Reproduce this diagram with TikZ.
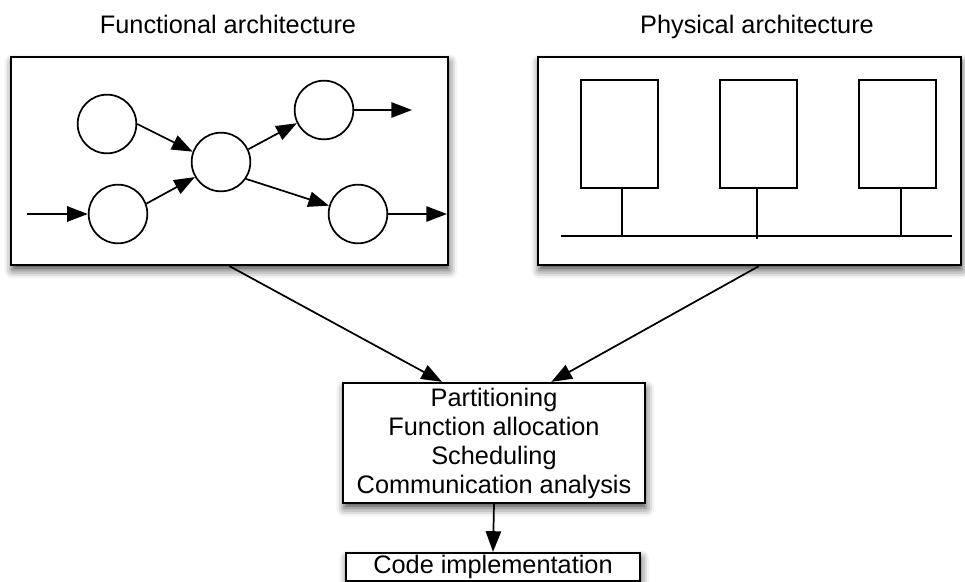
\documentclass[tikz,border=0pt]{standalone}
\usepackage{fontspec}
\setmainfont{Liberation Sans}
\usetikzlibrary{arrows.meta,shadows.blur,fit}
\begin{document}
\begin{tikzpicture}[x=0.75pt,y=-0.75pt,
  lbl/.style={font=\fontsize{19}{21.75}\selectfont},
  bigbox/.style={draw, line width=1.7pt, fill=white, inner sep=0pt,
    blur shadow={shadow xshift=1pt, shadow yshift=-4pt, shadow blur radius=6pt, shadow opacity=70}},
  proc/.style={circle, draw, line width=1.3pt, fill=white, minimum size=44pt, inner sep=0pt},
  cpu/.style={draw, line width=1.3pt, inner sep=0pt},
  conn/.style={line width=1.3pt, -{Triangle[length=15.5pt,width=11.5pt]}},
  wire/.style={line width=1.3pt}
]
\useasboundingbox (0,0) rectangle (965,582);

% titles
\node[lbl, anchor=base] (t1) at (228,33) {Functional architecture};
\node[lbl, anchor=base] (t2) at (757,33) {Physical architecture};

% functional box
\node[bigbox, fit={(11,57) (448,265)}] (lbox) {};
\node[proc] (c1) at (107,124) {};
\node[proc] (c2) at (118,214) {};
\node[proc] (c3) at (221,162) {};
\node[proc] (c4) at (324,110) {};
\node[proc] (c5) at (358,214) {};
\coordinate (in) at (27,214);
\coordinate (o4) at (412,110);
\coordinate (o5) at (447,214);
\draw[conn] (in) -- (c2.west);
\draw[conn] (c1.east) -- (c3.160);
\draw[conn] (c2.20) -- (c3.210);
\draw[conn] (c3.25) -- (c4.206);
\draw[conn] (c3.-34) -- (c5.164);
\draw[conn] (c4.east) -- (o4);
\draw[conn] (c5.east) -- (o5);

% physical box
\node[bigbox, fit={(538,57) (961,265)}] (rbox) {};
\node[cpu, fit={(581,80) (658,188)}] (r1) {};
\node[cpu, fit={(720,80) (797,188)}] (r2) {};
\node[cpu, fit={(859,80) (936,188)}] (r3) {};
\coordinate (busl) at (561,236);
\coordinate (busr) at (952,236);
\draw[wire] (busl) -- (busr);
\draw[wire] ([xshift=2pt]r1.south) -- ([xshift=2pt]r1.south |- busl);
\draw[wire] ([xshift=-1pt]r2.south) -- ([xshift=-1pt,yshift=-2pt]r2.south |- busl);
\draw[wire] ([xshift=2.5pt]r3.south) -- ([xshift=2.5pt]r3.south |- busl);

% mapping box
\node[bigbox, lbl, align=center, minimum width=226.5pt, minimum height=90pt] (mid) at (494,443)
  {Partitioning\\Function allocation\\Scheduling\\Communication analysis};
\node[bigbox, lbl, minimum width=220.5pt, minimum height=21pt] (code) at (493,567) {Code implementation};

\draw[conn] (lbox.south) -- ([xshift=-39pt]mid.north);
\draw[conn] ([xshift=7pt]rbox.south) -- ([xshift=43pt]mid.north);
\draw[conn] (mid.south) -- (code.north);
\end{tikzpicture}
\end{document}
